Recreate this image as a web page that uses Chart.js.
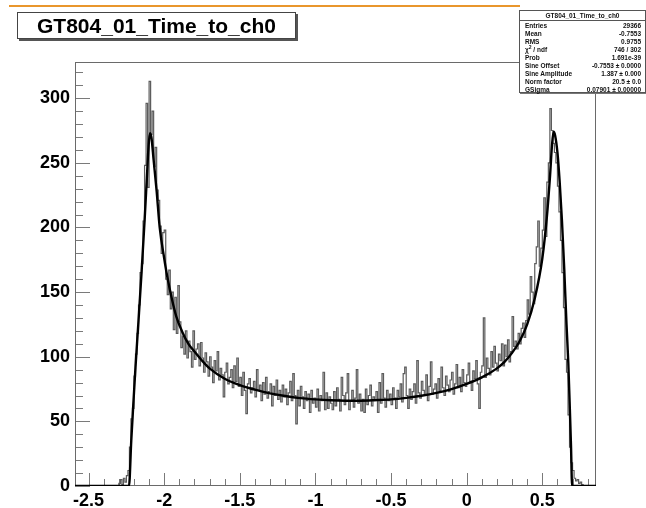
<!DOCTYPE html>
<html>
<head>
<meta charset="utf-8">
<script src="https://cdn.jsdelivr.net/npm/chart.js@4.4.1/dist/chart.umd.min.js"></script>
<style>
  html, body { margin: 0; padding: 0; background: #fff; }
  #wrap { position: relative; width: 646px; height: 508px; overflow: hidden; font-family: "Liberation Sans", Arial, sans-serif; }
  #c { position: absolute; left: 0; top: 0; }
  #orange { position: absolute; left: 9px; top: 5px; width: 511px; height: 2px; background: #e9962c; }
  #title { position: absolute; left: 17px; top: 12px; width: 277px; height: 25px; border: 1px solid #444; box-shadow: 2px 2px 0 #555; background: #fff;
           font-weight: bold; font-size: 21px; line-height: 25px; text-align: center; color: #000; }
  #stats { position: absolute; left: 519px; top: 10px; width: 125px; height: 81px; border: 1px solid #555; box-shadow: 1px 1px 0 #777; background: #fff;
           font-weight: bold; font-size: 6.5px; color: #111; }
  #stats .hdr { height: 9px; line-height: 10px; text-align: center; border-bottom: 1px solid #555; }
  #stats .row { position: relative; height: 8px; line-height: 8px; margin: 0 4px 0 5px; }
  #stats .row .v { position: absolute; right: 0; top: 0; }
  #stats .rows { padding-top: 1px; }
</style>
</head>
<body>
<div id="wrap">
  <canvas id="c" width="646" height="508"></canvas>
  <div id="orange"></div>
  <div id="title">GT804_01_Time_to_ch0</div>
  <div id="stats">
    <div class="hdr">GT804_01_Time_to_ch0</div>
    <div class="rows">
      <div class="row"><span>Entries</span><span class="v">29366</span></div>
      <div class="row"><span>Mean</span><span class="v">-0.7553</span></div>
      <div class="row"><span>RMS</span><span class="v">0.9755</span></div>
      <div class="row"><span>&chi;<sup style="font-size:5px;line-height:0">2</sup> / ndf</span><span class="v">746 / 302</span></div>
      <div class="row"><span>Prob</span><span class="v">1.691e-39</span></div>
      <div class="row"><span>Sine Offset</span><span class="v">-0.7553 &plusmn; 0.0000</span></div>
      <div class="row"><span>Sine Amplitude</span><span class="v">1.387 &plusmn; 0.000</span></div>
      <div class="row"><span>Norm factor</span><span class="v">20.5 &plusmn; 0.0</span></div>
      <div class="row"><span>GSigma</span><span class="v">0.07901 &plusmn; 0.00000</span></div>
    </div>
  </div>
</div>
<script>
// ---------- data ----------
const histStart = -2.30;   // left edge of first bin
const binWidth = 0.01;
const histCounts = [
  0, 2, 5, 1, 6, 3, 8, 12, 30, 52,
  60, 85, 102, 118, 140, 165, 172, 205, 248, 296,
  231, 313, 272, 290, 247, 262, 229, 221, 201, 180,
  196, 198, 160, 148, 167, 137, 150, 121, 146, 118,
  155, 127, 107, 116, 102, 120, 99, 112, 104, 92,
  120, 98, 106, 110, 93, 111, 99, 88, 103, 96,
  85, 100, 92, 80, 97, 89, 104, 82, 91, 86,
  69, 88, 95, 79, 84, 90, 76, 93, 81, 99,
  77, 84, 70, 88, 74, 56, 79, 83, 72, 76,
  81, 69, 90, 74, 78, 66, 80, 71, 84, 68,
  73, 79, 62, 77, 70, 82, 67, 74, 65, 78,
  69, 75, 63, 72, 81, 66, 87, 70, 48, 74,
  62, 77, 69, 60, 73, 66, 71, 57, 74, 64,
  68, 61, 75, 58, 70, 66, 88, 59, 72, 60,
  69, 64, 59, 73, 62, 76, 67, 58, 84, 70,
  63, 72, 87, 59, 66, 74, 61, 68, 90, 64,
  71, 58, 67, 57, 75, 63, 70, 78, 62, 69,
  66, 73, 57, 80, 64, 87, 68, 61, 74, 66,
  71, 63, 76, 68, 60, 74, 69, 79, 65, 87,
  92, 70, 60, 75, 67, 73, 79, 64, 97, 72,
  68, 81, 74, 70, 86, 66, 77, 96, 71, 75,
  79, 68, 83, 74, 92, 76, 70, 85, 78, 73,
  82, 88, 71, 79, 94, 76, 84, 73, 90, 80,
  77, 86, 95, 81, 74, 89, 83, 97, 79, 60,
  88, 93, 130, 84, 99, 91, 86, 104, 92, 108,
  95, 89, 102, 97, 110, 93, 109, 100, 113, 96,
  104, 131, 108, 112, 106, 118, 110, 122, 126, 115,
  128, 144, 133, 162, 150, 141, 172, 185, 205, 170,
  184, 198, 223, 193, 235, 250, 292, 275, 265, 258,
  250, 232, 212, 190, 165, 138, 98, 88, 55, 30,
  18, 12, 6, 4, 5, 2, 3, 1, 0, 0
];

const fitX = [-2.59, -2.233, -2.218, -2.205, -2.19, -2.17, -2.15, -2.13, -2.115, -2.105, -2.095, -2.085, -2.07, -2.05, -2.03, -2.0, -1.98, -1.95, -1.92, -1.88, -1.84, -1.8, -1.75, -1.7, -1.6, -1.5, -1.4, -1.3, -1.2, -1.1, -1.0, -0.9, -0.8, -0.7, -0.6, -0.5, -0.4, -0.3, -0.2, -0.1, 0, 0.1, 0.2, 0.25, 0.3, 0.35, 0.4, 0.45, 0.5, 0.53, 0.55, 0.565, 0.575, 0.585, 0.6, 0.615, 0.63, 0.645, 0.66, 0.672, 0.682, 0.69, 0.697, 0.855];
const fitY = [0, 0, 35, 62, 92, 128, 165, 205, 238, 260, 273, 270, 252, 228, 200, 176, 162, 145, 131, 119, 110, 104, 97, 91, 83, 78, 74.5, 71.7, 69.6, 68, 67, 66.3, 66, 66, 66.4, 67, 68.2, 69.8, 72, 75, 79, 84, 91, 96, 103, 112, 125, 145, 176, 208, 238, 265, 274, 271, 258, 235, 205, 168, 125, 95, 60, 30, 0, 0];

const xTickValues = [-2.5, -2, -1.5, -1, -0.5, 0, 0.5];
const xTickLabels = ['-2.5', '-2', '-1.5', '-1', '-0.5', '0', '0.5'];
const yTickValues = [0, 50, 100, 150, 200, 250, 300];
const yTickLabels = ['0', '50', '100', '150', '200', '250', '300'];
const xMin = -2.59, xMax = 0.855, yMin = 0, yMax = 328;
const xMinorStep = 0.1, yMinorStep = 10;

// ---------- build ----------
const histPoints = histCounts.map((v, i) => ({ x: +(histStart + i * binWidth).toFixed(4), y: v }));
histPoints.push({ x: +(histStart + histCounts.length * binWidth).toFixed(4), y: 0 });
const fitPoints = fitX.map((x, i) => ({ x: x, y: fitY[i] }));

const axisColor = '#7a7a7a';
const rootTicks = {
  id: 'rootTicks',
  beforeDatasetsDraw(chart) {
    const { ctx, chartArea: a, scales: { x, y } } = chart;
    ctx.save();
    ctx.strokeStyle = axisColor;
    ctx.lineWidth = 1;
    ctx.beginPath();
    const xs = Math.ceil((xMin + 1e-9) / xMinorStep);
    for (let k = xs; k * xMinorStep <= xMax + 1e-9; k++) {
      const v = k * xMinorStep;
      const major = xTickValues.some(t => Math.abs(t - v) < 1e-6);
      const px = Math.round(x.getPixelForValue(v)) + 0.5;
      ctx.moveTo(px, a.bottom);
      ctx.lineTo(px, a.bottom - (major ? 13 : 7));
    }
    for (let k = 0; k * yMinorStep <= yMax; k++) {
      const v = k * yMinorStep;
      const major = yTickValues.includes(v);
      const py = Math.round(y.getPixelForValue(v)) + 0.5;
      ctx.moveTo(a.left, py);
      ctx.lineTo(a.left + (major ? 15 : 8), py);
    }
    ctx.stroke();
    ctx.strokeStyle = '#6a6a6a';
    ctx.strokeRect(Math.round(a.left) + 0.5, Math.round(a.top) + 0.5, Math.round(a.right - a.left) - 1, Math.round(a.bottom - a.top) - 1);
    ctx.restore();
  }
};

new Chart(document.getElementById('c'), {
  type: 'line',
  data: {
    datasets: [
      {
        label: 'fit',
        data: fitPoints,
        borderColor: '#000',
        borderWidth: 2.4,
        pointRadius: 0,
        fill: false,
        cubicInterpolationMode: 'monotone',
        order: 1
      },
      {
        label: 'hist',
        data: histPoints,
        borderColor: '#5c5c5c',
        borderWidth: 1.2,
        pointRadius: 0,
        fill: false,
        stepped: 'after',
        order: 2
      }
    ]
  },
  options: {
    responsive: false,
    animation: false,
    events: [],
    layout: { padding: { left: 0, right: 50, top: 62, bottom: 0 } },
    plugins: { legend: { display: false }, tooltip: { enabled: false }, title: { display: false } },
    scales: {
      x: {
        type: 'linear',
        min: xMin, max: xMax,
        grid: { display: false, drawTicks: false },
        border: { display: false },
        afterBuildTicks: s => { s.ticks = xTickValues.map(v => ({ value: v })); },
        afterFit: s => { s.height = 22; },
        ticks: {
          padding: 4,
          color: '#000',
          font: { family: 'Liberation Sans', weight: 'bold', size: 18 },
          callback: (v) => { const i = xTickValues.findIndex(t => Math.abs(t - v) < 1e-6); return i >= 0 ? xTickLabels[i] : ''; },
          maxRotation: 0, autoSkip: false
        }
      },
      y: {
        type: 'linear',
        min: yMin, max: yMax,
        grid: { display: false, drawTicks: false },
        border: { display: false },
        afterBuildTicks: s => { s.ticks = yTickValues.map(v => ({ value: v })); },
        afterFit: s => { s.width = 75; },
        ticks: {
          padding: 5,
          color: '#000',
          font: { family: 'Liberation Sans', weight: 'bold', size: 18 },
          callback: (v) => { const i = yTickValues.indexOf(v); return i >= 0 ? yTickLabels[i] : ''; },
          autoSkip: false
        }
      }
    }
  },
  plugins: [rootTicks]
});
</script>
</body>
</html>
